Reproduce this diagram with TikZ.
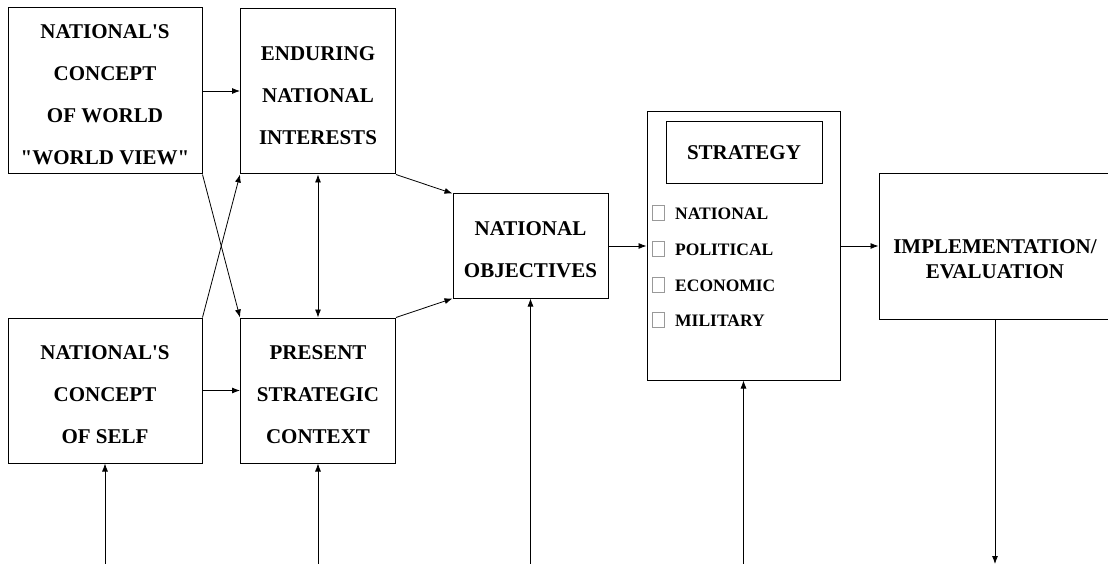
\documentclass[tikz,border=0pt]{standalone}
\usepackage{fontspec}
\newfontfamily\boxfont{Liberation Serif}
\usetikzlibrary{arrows.meta}
\tikzset{
	block/.style={draw, line width=1pt, inner sep=0pt},
	blocktext/.style={inner sep=0pt, align=center, yshift=-4pt, font=\boxfont\bfseries\fontsize{21}{42}\selectfont},
	tickbox/.style={draw=black!40, line width=0.7pt, minimum width=12, minimum height=15, inner sep=0pt},
	item/.style={anchor=west, inner sep=0pt, font=\boxfont\bfseries\fontsize{17.5}{20}\selectfont},
	link/.style={-{Latex[length=8pt,width=6pt]}, line width=0.8pt},
}

\begin{document}
\begin{tikzpicture}[x=1pt,y=-1pt]
			%%%%% START %%%%%
			\useasboundingbox (0,0) rectangle (1108,564);
			
			\node[block, minimum width=194, minimum height=166,
				label={[blocktext]center:NATIONAL'S\\CONCEPT\\OF WORLD\\"WORLD VIEW"}] (world) at (105,91) {};
			\node[block, minimum width=155, minimum height=165,
				label={[blocktext]center:ENDURING\\NATIONAL\\INTERESTS}] (interests) at (318,91.5) {};
			
			\node[block, minimum width=194, minimum height=145,
				label={[blocktext]center:NATIONAL'S\\CONCEPT\\OF SELF}] (self) at (105,390.5) {};
			\node[block, minimum width=155, minimum height=145,
				label={[blocktext]center:PRESENT\\STRATEGIC\\CONTEXT}] (context) at (318,390.5) {};
			
			\node[block, minimum width=155, minimum height=104,
				label={[blocktext]center:NATIONAL\\OBJECTIVES}] (objectives) at (530.5,246) {};
			
			\node[block, minimum width=193, minimum height=268] (strategy) at (743.5,246) {};
			\node[block, minimum width=156, minimum height=62,
				label={[blocktext, yshift=4pt]center:STRATEGY}] (stratname) at (744,153) {};
			
			\node[tickbox] (tnat) at (658,213) {};
			\node[item] (lnat) at (675,214) {NATIONAL};
			\node[tickbox] (tpol) at (658,249) {};
			\node[item] (lpol) at (675,250) {POLITICAL};
			\node[tickbox] (teco) at (658,285) {};
			\node[item] (leco) at (675,286) {ECONOMIC};
			\node[tickbox] (tmil) at (658,320) {};
			\node[item] (lmil) at (675,321) {MILITARY};
			
			\node[block, minimum width=232, minimum height=145,
				label={[blocktext, font=\boxfont\bfseries\fontsize{21}{25}\selectfont, yshift=-9pt]center:IMPLEMENTATION/\\EVALUATION}] (impl) at (995,246.5) {};
			
			\coordinate (inself) at (105,564);
			\coordinate (incontext) at (318,564);
			\coordinate (inobjectives) at (530.5,564);
			\coordinate (instrategy) at (743.5,564);
			\coordinate (outimpl) at (995,564);
			
			\draw[link] (world.east) -- (world.east -| interests.west);
			\draw[link] (self.east) -- (self.east -| context.west);
			\draw[link] (world.south east) -- (context.north west);
			\draw[link] (self.north east) -- (interests.south west);
			\draw[link, {Latex[length=8pt,width=6pt]}-{Latex[length=8pt,width=6pt]}] (interests.south) -- (context.north);
			
			\draw[link] (interests.south east) -- (objectives.north west);
			\draw[link] (context.north east) -- (objectives.south west);
			\draw[link] (objectives.east) -- (strategy.west);
			\draw[link] (strategy.east) -- (strategy.east -| impl.west);
			
			\draw[link] (inself) -- (self.south);
			\draw[link] (incontext) -- (context.south);
			\draw[link] (inobjectives) -- (objectives.south);
			\draw[link] (instrategy) -- (strategy.south);
			\draw[link] (impl.south) -- (outimpl);
			
			%%%%% END %%%%%
\end{tikzpicture}
\end{document}
